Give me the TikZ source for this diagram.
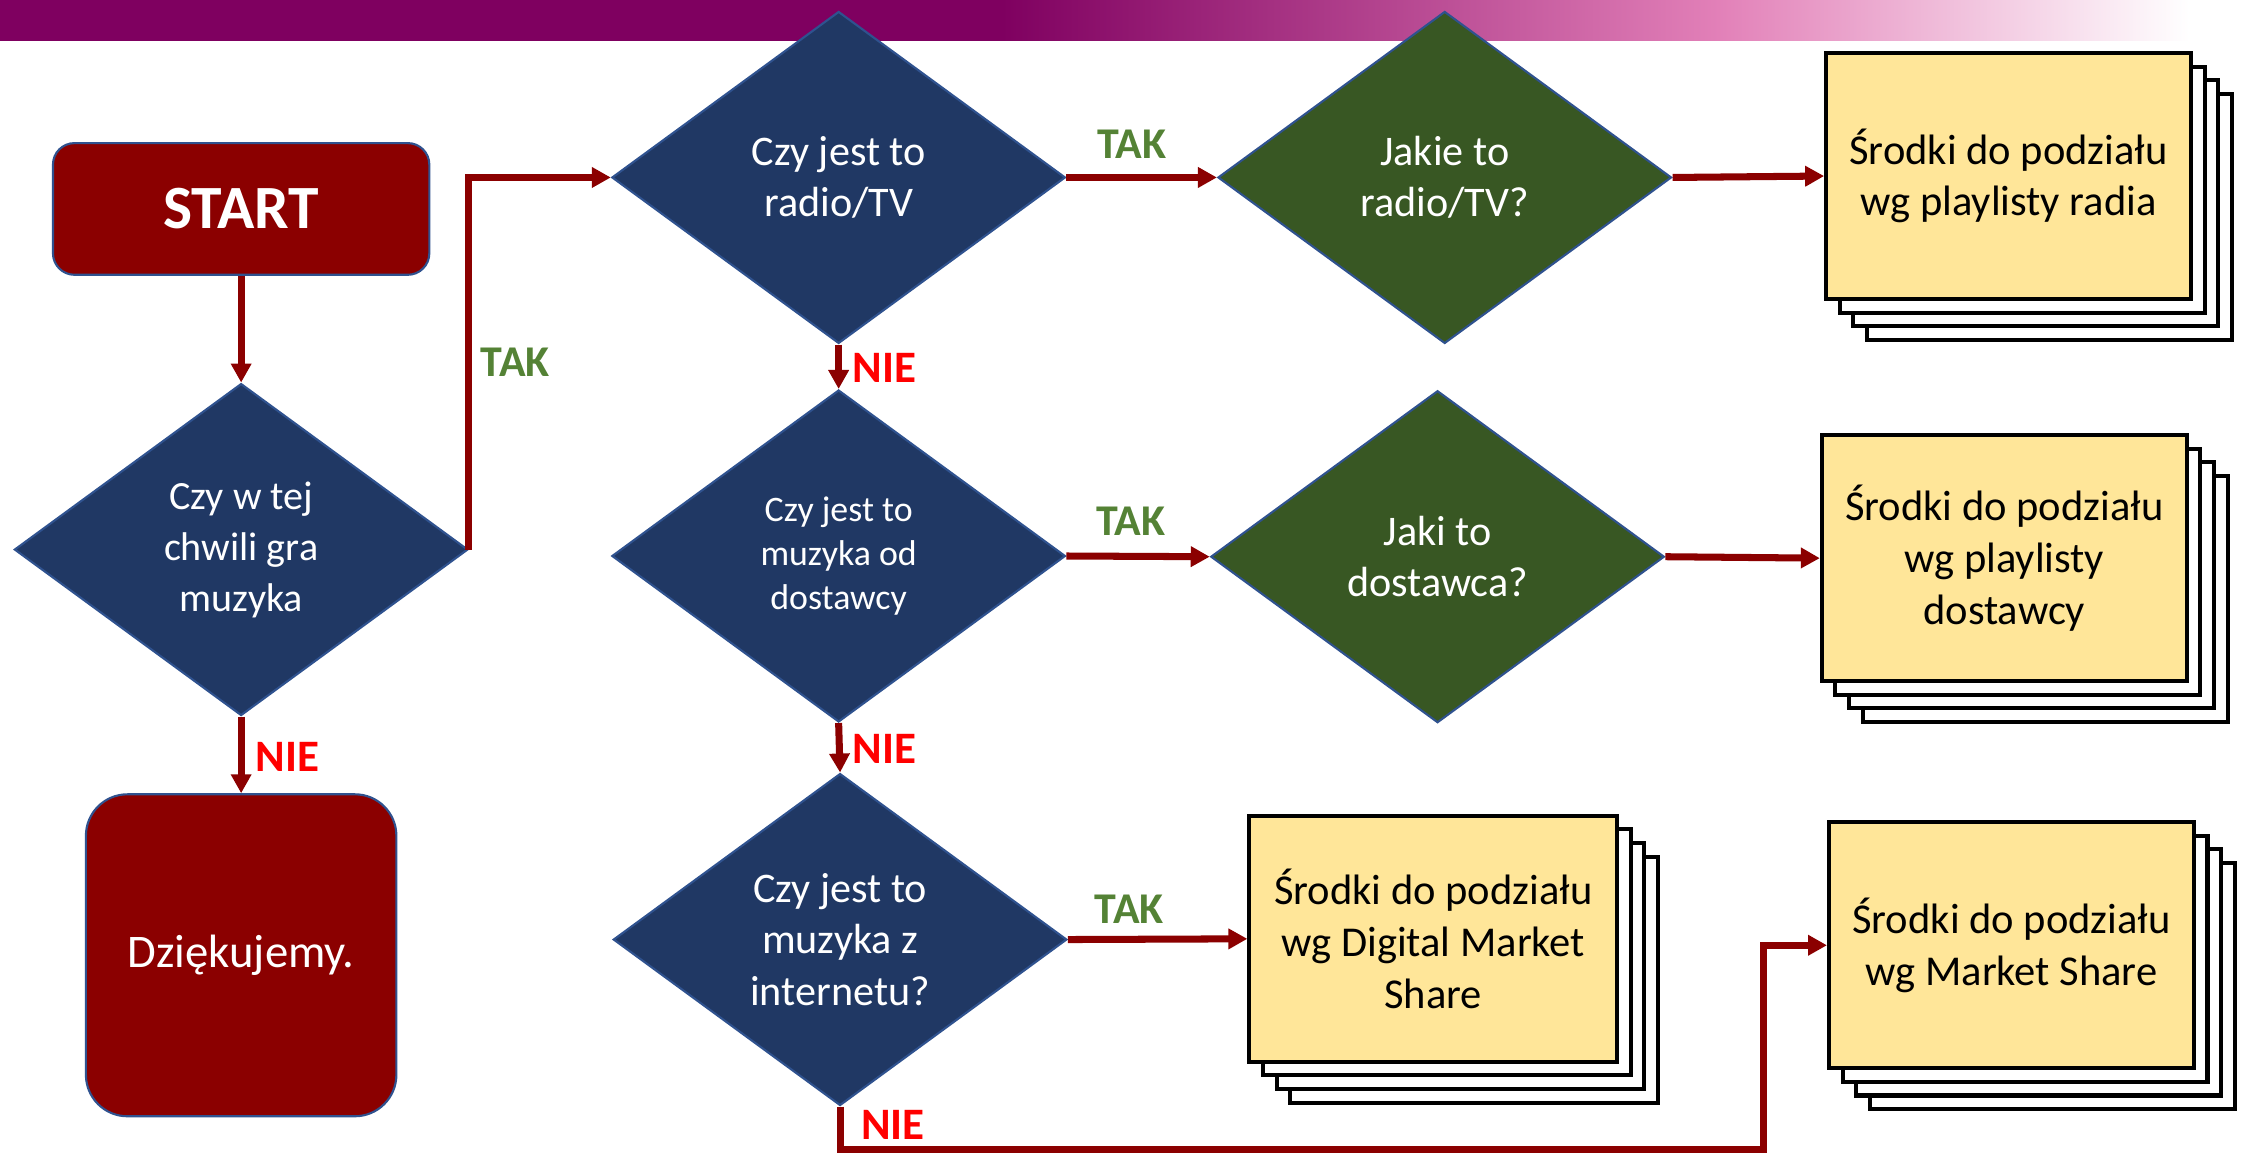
\documentclass[tikz,border=0pt]{standalone}
\usepackage{fontspec}
\setmainfont{Carlito}
\usetikzlibrary{shapes.geometric,arrows.meta,shadows}
\definecolor{connred}{RGB}{139,0,0}
\definecolor{navyfill}{RGB}{32,56,100}
\definecolor{greenfill}{RGB}{56,87,35}
\definecolor{diaborder}{RGB}{47,82,143}
\definecolor{docyellow}{RGB}{255,230,153}
\definecolor{takgreen}{RGB}{84,130,53}
\definecolor{nielred}{RGB}{255,0,0}
\definecolor{barpurple}{RGB}{127,0,96}
\definecolor{barpink}{RGB}{226,128,184}
\begin{document}
\begin{tikzpicture}[x=0.01431cm,y=-0.01431cm,
  conn/.style={draw=connred, line width=2pt, -{Triangle[length=5.4pt,width=5.6pt]}},
  dia/.style={diamond, draw=diaborder, line width=0.6pt, inner sep=0pt,
    minimum width=4.536cm, minimum height=3.320cm, align=center, text=white,
    font=\fontsize{12}{14.6}\selectfont},
  termbox/.style={rectangle, draw=diaborder, line width=0.6pt, fill=connred,
    text=white, align=center},
  layer/.style={general shadow={shadow xshift=#1, shadow yshift=-#1,
    fill=white, draw=black, line width=1.15pt}},
  docbox/.style={rectangle, draw=black, line width=1.15pt, fill=docyellow,
    minimum width=3.649cm, minimum height=2.461cm, align=center, inner sep=0pt,
    font=\fontsize{12.1}{14.7}\selectfont,
    layer=0.408cm, layer=0.272cm, layer=0.136cm},
  taklbl/.style={text=takgreen, font=\bfseries\fontsize{12.5}{14}\selectfont, inner sep=0pt},
  nielbl/.style={text=nielred, font=\bfseries\fontsize{12.8}{14}\selectfont, inner sep=0pt}
]
\useasboundingbox (0,0) rectangle (1568,806);
% top bar
\fill[barpurple] (0,0) rectangle (701,28.6);
\shade[left color=barpurple, right color=barpink] (700,0) rectangle (1201,28.6);
\shade[left color=barpink, right color=white] (1200,0) rectangle (1530,28.6);

% terminal boxes
\node[termbox, minimum width=3.764cm, minimum height=1.317cm, rounded corners=0.215cm,
  font=\bfseries\fontsize{17.5}{20}\selectfont] (start) at (168.5,146) {START};
\node[termbox, minimum width=3.105cm, minimum height=3.220cm, rounded corners=0.415cm,
  font=\fontsize{13.3}{16}\selectfont] (thanks) at (168.5,667.5) {Dziękujemy.};

% decisions
\node[dia, fill=navyfill, font=\fontsize{11.4}{14.5}\selectfont] (d1) at (168.5,384) {Czy w tej\\chwili gra\\muzyka};
\node[dia, fill=navyfill] (d2) at (586,124) {Czy jest to\\radio/TV};
\node[dia, fill=navyfill, font=\fontsize{10.2}{12.6}\selectfont] (d3) at (586,388.5) {Czy jest to\\muzyka od\\dostawcy};
\node[dia, fill=navyfill] (d4) at (587,656.5) {Czy jest to\\muzyka z\\internetu?};
\node[dia, fill=greenfill] (g1) at (1009.5,124) {Jakie to\\radio/TV?};
\node[dia, fill=greenfill] (g2) at (1004.5,389) {Jaki to\\dostawca?};

% result stacks
\node[docbox] (b1) at (1403.5,123) {Środki do podziału\\wg playlisty radia};
\node[docbox] (b2) at (1400.5,390) {Środki do podziału\\wg playlisty\\dostawcy};
\node[docbox, minimum width=3.678cm] (b3) at (1001.5,656) {Środki do podziału\\wg Digital Market\\Share};
\node[docbox] (b4) at (1405.5,660.5) {Środki do podziału\\wg Market Share};

% connectors
\draw[conn] (start.south) -- (d1.north);
\draw[conn] (d1.south) -- (thanks.north);
\draw[conn] (d1.east) |- (d2.west);
\draw[conn] (d2.east) -- (g1.west);
\draw[conn] (g1.east) -- (b1.west);
\draw[conn] (d2.south) -- (d3.north);
\draw[conn] (d3.east) -- (g2.west);
\draw[conn] (g2.east) -- (b2.west);
\draw[conn] (d3.south) -- (d4.north);
\draw[conn] (d4.east) -- (b3.west);
\coordinate (turn) at (1232,803);
\draw[conn] (d4.south) |- (turn) |- (b4.west);

% labels
\node[nielbl] (n1) at (201,529) {NIE};
\node[taklbl] (t1) at (360,253) {TAK};
\node[taklbl] (t2) at (791,101) {TAK};
\node[nielbl] (n2) at (618,257) {NIE};
\node[taklbl] (t3) at (790,364) {TAK};
\node[nielbl] (n3) at (618,523) {NIE};
\node[taklbl] (t4) at (789,635) {TAK};
\node[nielbl] (n4) at (624,786) {NIE};
\end{tikzpicture}
\end{document}
